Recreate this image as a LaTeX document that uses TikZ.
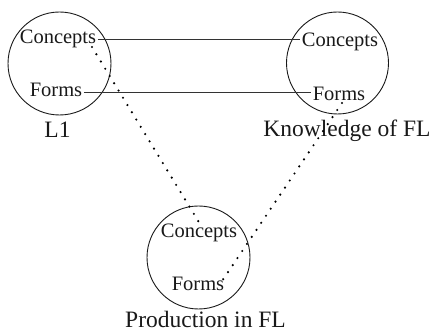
\documentclass[tikz,border=0pt]{standalone}
\usepackage{fontspec}
\setmainfont{Liberation Serif}
\begin{document}
\begin{tikzpicture}[x=1pt,y=1pt,
  ring/.style={draw=black!90,line width=0.9pt},
  inner/.style={anchor=base,inner sep=1.5pt,text height=14pt,text depth=4.5pt,font=\fontsize{20.5}{24}\selectfont,text=black!90},
  lab/.style={anchor=base,inner sep=0pt,font=\fontsize{23.5}{28}\selectfont,text=black!90},
  link/.style={draw=black!80,line width=0.9pt},
  dotline/.style={draw=black,line width=2.4pt,line cap=round,dash pattern=on 0pt off 8.5pt}]
\useasboundingbox (0,0) rectangle (432,332);
% circles
\node[ring,circle,minimum size=103pt,inner sep=0pt] (L) at (59.5,268.5) {};
\node[ring,circle,minimum size=102pt,inner sep=0pt] (K) at (337.5,269) {};
\node[ring,circle,minimum size=103pt,inner sep=0pt] (P) at (198.5,74.5) {};
% inner texts
\node[inner] (c1) at (58,288) {Concepts};
\node[inner] (f1) at (56,235) {Forms};
\node[inner] (c2) at (340,285.5) {Concepts};
\node[inner] (f2) at (339,231.5) {Forms};
\node[inner] (c3) at (199,94) {Concepts};
\node[inner] (f3) at (198,41) {Forms};
% labels
\node[lab] (l1) at (57.5,194) {L1};
\node[lab] (l2) at (347,195) {Knowledge of FL};
\node[lab] (l3) at (205.5,4) {Production in FL};
% solid links
\draw[link] (c1.east) -- (c1.east -| c2.west);
\draw[link] (f1.east) -- (f1.east -| f2.west);
% dotted links
\coordinate (d1) at (92,285);
\coordinate (d2) at (342,229);
\coordinate (d4) at (222,51);
\draw[dotline] (d1) -- (c3.north);
\draw[dotline] (d2) -- (d4);
\end{tikzpicture}
\end{document}
